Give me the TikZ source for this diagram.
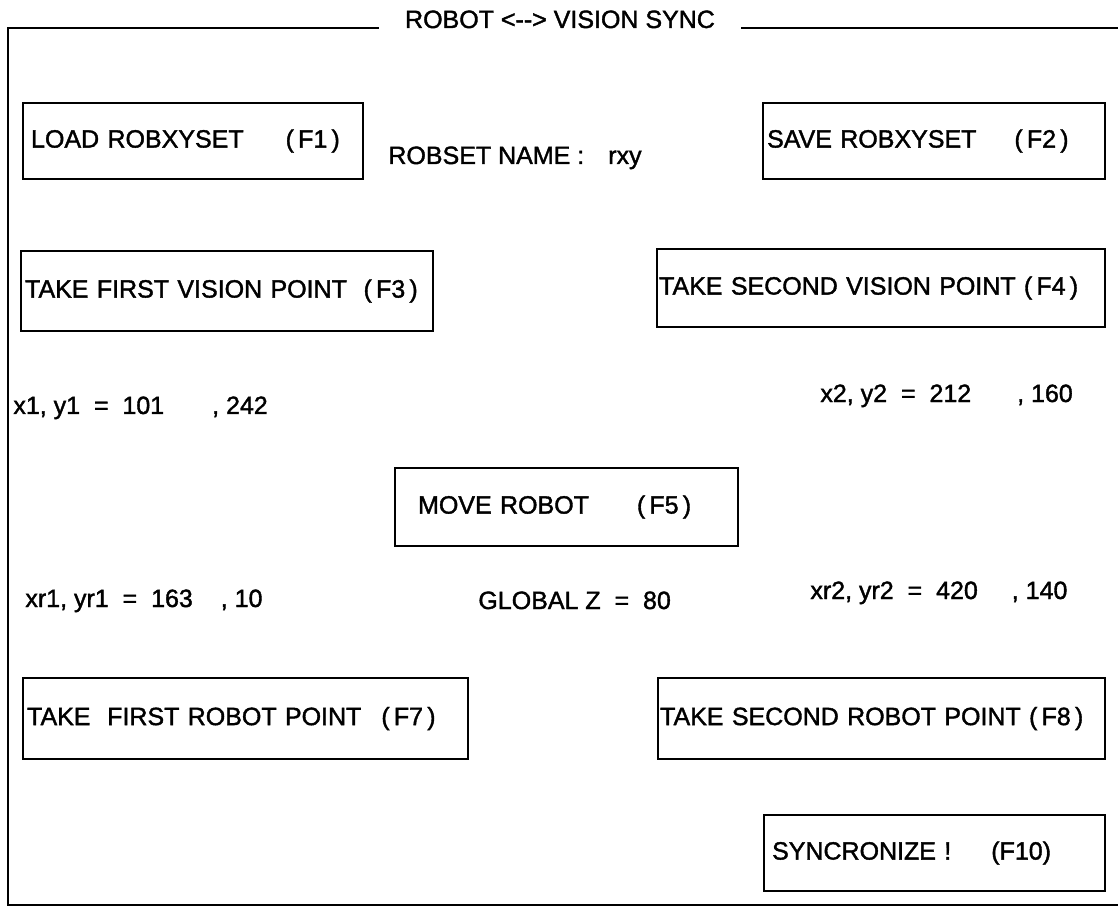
\documentclass[tikz,border=0pt]{standalone}
\usepackage{fontspec}
\setmainfont{Liberation Sans}[FakeBold=1.5]
\usetikzlibrary{positioning}

\begin{document}
\begin{tikzpicture}[x=0.5pt, y=-0.5pt,
    fkey/.style={draw, line width=1.1pt, anchor=north west, align=left, inner ysep=0pt},
    lbl/.style={anchor=base west, inner sep=0pt},
    every node/.style={font=\fontsize{12.5}{14}\selectfont}]
  \useasboundingbox (0,0) rectangle (1118,914);

  % frame with title
  \node [anchor=base, inner xsep=13pt, inner ysep=0pt] (title) at (560,28) {ROBOT <-{}-> VISION SYNC};
  \coordinate (tl) at (8,28);
  \coordinate (bl) at (8,905);
  \coordinate (br) at (1118,905);
  \coordinate (tr) at (1118,28);
  \draw [line width=1.4pt] (title.base west) -- (tl) -- (bl) -- (br);
  \draw [line width=1.4pt] (title.base east) -- (tr);

  % function keys
  \node [fkey, minimum height=38pt, text width=162pt, inner xsep=4pt] (load) at (22,102)
    {LOAD ROBXYSET\hspace{21pt}(\,F1\,)};
  \node [fkey, minimum height=38pt, text width=167pt, inner xsep=2pt] (save) at (762,102)
    {SAVE ROBXYSET\hspace{19pt}(\,F2\,)};
  \node [fkey, minimum height=40pt, text width=202pt, inner xsep=2pt] (vis1) at (20,250)
    {TAKE FIRST VISION POINT ~(\,F3\,)};
  \node [fkey, minimum height=39pt, text width=222pt, inner xsep=1pt] (vis2) at (656,248)
    {TAKE SECOND VISION POINT (\,F4\,)};
  \node [fkey, minimum height=39pt, text width=148.5pt, inner xsep=11.5pt] (move) at (394,467)
    {MOVE ROBOT\hspace{24pt}(\,F5\,)};
  \node [fkey, minimum height=40.5pt, text width=218.5pt, inner xsep=2pt] (rob1) at (22,677)
    {TAKE~ FIRST ROBOT POINT\hspace{10pt}(\,F7\,)};
  \node [fkey, minimum height=40.5pt, text width=221.5pt, inner xsep=1pt] (rob2) at (657,677)
    {TAKE SECOND ROBOT POINT (\,F8\,)};
  \node [fkey, minimum height=38pt, text width=162.5pt, inner xsep=4pt] (sync) at (763,814)
    {SYNCRONIZE !\hspace{20pt}(F10)};

  % values
  \node [lbl] (name) at (388,164) {ROBSET NAME :\hspace{12pt}rxy};
  \node [lbl] (xy1) at (13,414) {x1, y1 ~= ~101\hspace{24pt}, 242};
  \node [lbl] (xy2) at (820,402) {x2, y2 ~= ~212\hspace{23pt}, 160};
  \node [lbl] (xyr1) at (25,607) {xr1, yr1 ~= ~163\hspace{14pt}, 10};
  \node [lbl] (glz) at (478,609) {GLOBAL Z ~= ~80};
  \node [lbl] (xyr2) at (810,599) {xr2, yr2 ~= ~420\hspace{17pt}, 140};
\end{tikzpicture}
\end{document}
